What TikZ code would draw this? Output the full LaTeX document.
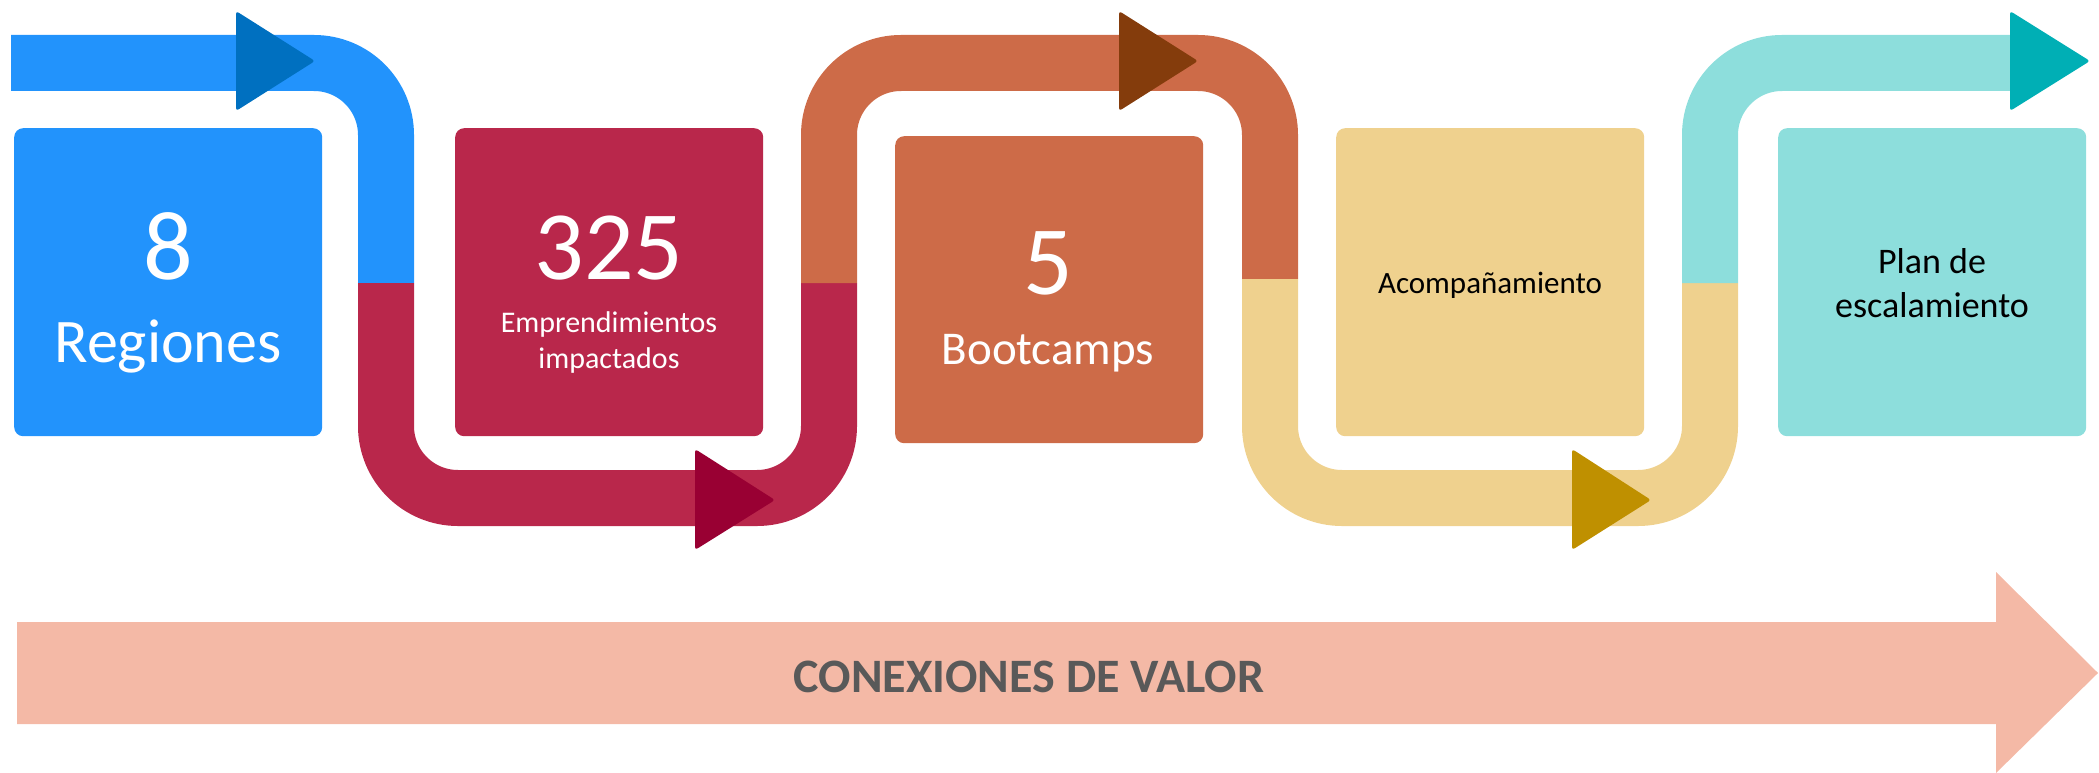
\documentclass[tikz,border=0pt]{standalone}
\usepackage{fontspec}
\setmainfont{Carlito}
\definecolor{cblue}{HTML}{2293FC}
\definecolor{cbluedark}{HTML}{0070C0}
\definecolor{cred}{HTML}{B9274B}
\definecolor{creddark}{HTML}{990033}
\definecolor{corange}{HTML}{CD6B48}
\definecolor{corangedark}{HTML}{843C0C}
\definecolor{cyellow}{HTML}{EFD18E}
\definecolor{cyellowdark}{HTML}{BF9000}
\definecolor{cteal}{HTML}{8DDEDC}
\definecolor{ctealdark}{HTML}{00AFB5}
\definecolor{cpeach}{HTML}{F4B9A6}
\definecolor{cgraytext}{HTML}{595959}
\begin{document}
\begin{tikzpicture}[x=1pt,y=-1pt,
  band/.style={line width=56pt, line cap=butt, rounded corners=72pt},
  tri/.style={rounded corners=3pt},
  box/.style={rounded corners=9pt, minimum width=308pt, minimum height=308pt, inner sep=0pt, anchor=north west},
  lbl/.style={anchor=base, inner sep=0pt, align=center}]
\useasboundingbox (0,0) rectangle (2099,773);
% boxes
\node[box, fill=cblue] (b1) at (14,128) {};
\node[box, fill=cred] (b2) at (455,128) {};
\node[box, fill=corange, minimum height=307pt] (b3) at (895,136) {};
\node[box, fill=cyellow] (b4) at (1336,128) {};
\node[box, fill=cteal] (b5) at (1778,128) {};
% path coordinates
\coordinate (p0) at (11,63);
\coordinate (c1) at (386,63);
\coordinate (s1) at (386,283);
\coordinate (c2) at (386,498);
\coordinate (c3) at (829,498);
\coordinate (s2) at (829,283);
\coordinate (c4) at (829,63);
\coordinate (c5) at (1270,63);
\coordinate (s3) at (1270,279);
\coordinate (c6) at (1270,498);
\coordinate (c7) at (1710,498);
\coordinate (s4) at (1710,283);
\coordinate (c8) at (1710,63);
\coordinate (pe) at (2030,63);
\draw[band, cblue] (p0) -- (c1) -- (s1);
\draw[band, cred] (s1) -- (c2) -- (c3) -- (s2);
\draw[band, corange] (s2) -- (c4) -- (c5) -- (s3);
\draw[band, cyellow] (s3) -- (c6) -- (c7) -- (s4);
\draw[band, cteal] (s4) -- (c8) -- (pe);
% arrowheads
\fill[tri, cbluedark] (236,11) -- (315,61) -- (236,111) -- cycle;
\fill[tri, creddark] (695,449) -- (775,500) -- (695,550) -- cycle;
\fill[tri, corangedark] (1119,11) -- (1198,61) -- (1119,111) -- cycle;
\fill[tri, cyellowdark] (1572,449) -- (1651,500) -- (1572,550) -- cycle;
\fill[tri, ctealdark] (2010,11) -- (2090,61) -- (2010,111) -- cycle;
% texts
\node[lbl, text=white, font=\fontsize{98}{98}\selectfont] (t1a) at (168,279) {8};
\node[lbl, text=white, font=\fontsize{62}{62}\selectfont] (t1b) at (168,362.5) {Regiones};
\node[lbl, text=white, font=\fontsize{98}{98}\selectfont] (t2a) at (609,279) {325};
\node[lbl, text=white, font=\fontsize{30}{36}\selectfont] (t2b) at (609,368) {Emprendimientos\\impactados};
\node[lbl, text=white, font=\fontsize{98}{98}\selectfont] (t3a) at (1048,294.5) {5};
\node[lbl, text=white, font=\fontsize{47}{47}\selectfont] (t3b) at (1048,364) {Bootcamps};
\node[lbl, text=black, font=\fontsize{31}{31}\selectfont] (t4) at (1490,293.5) {Acompañamiento};
\node[lbl, text=black, font=\fontsize{36}{44}\selectfont] (t5) at (1932,317) {Plan de\\escalamiento};
% big arrow
\fill[cpeach] (17,622) -- (1996,622) -- (1996,572) -- (2098,673) -- (1996,773) -- (1996,724) -- (17,724) -- cycle;
\node[lbl, text=cgraytext, font=\bfseries\fontsize{48}{48}\selectfont] (tv) at (1029,692) {CONEXIONES DE VALOR};
\end{tikzpicture}
\end{document}
